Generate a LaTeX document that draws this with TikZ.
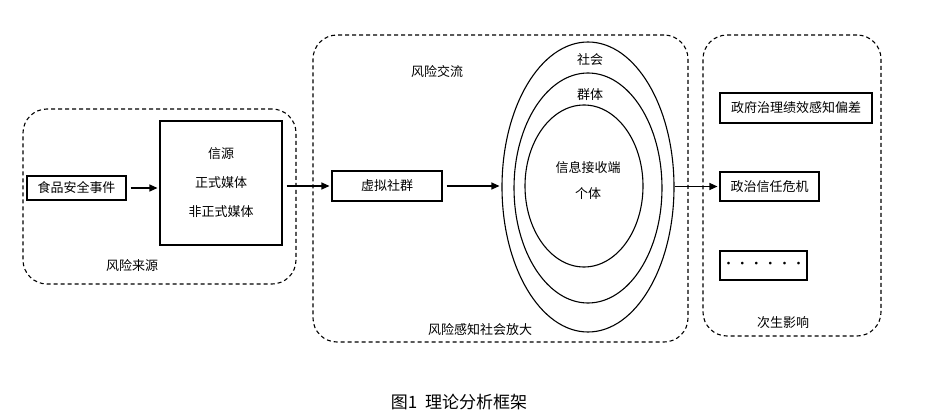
\documentclass[tikz,border=0pt]{standalone}
\usepackage{fontspec}
\setmainfont{Noto Sans CJK SC}
\usetikzlibrary{arrows.meta,positioning,shapes.geometric}

\begin{document}
\begin{tikzpicture}[
  x=1pt,y=-1pt,
  font=\fontsize{13}{16}\selectfont,
  frame/.style={draw,dashed,dash pattern=on 4pt off 3pt,line width=1.1pt,rounded corners=24pt,inner sep=0pt},
  box/.style={draw,line width=1.1pt,inner sep=0pt,align=center},
  ring/.style={draw,ellipse,line width=1.1pt,inner sep=0pt},
  label/.style={inner sep=0pt,align=center},
  arrow/.style={-{Triangle[length=8pt,width=7pt]},line width=1.1pt,shorten <=4pt,shorten >=2pt}
]
\useasboundingbox (0,0) rectangle (926,414);

% frames
\node[frame,minimum width=273,minimum height=175] (srcframe) at (159.5,196.5) {};
\node[frame,minimum width=375,minimum height=307] (commframe) at (500.5,188.5) {};
\node[frame,minimum width=178,minimum height=301] (effframe) at (792,185.5) {};

% risk source
\node[box,minimum width=99,minimum height=24] (event) at (76.5,188) {食品安全事件};
\node[box,minimum width=122,minimum height=124,font=\fontsize{13}{29}\selectfont] (media) at (221,183) {信源\\正式媒体\\非正式媒体};
\node[label] (srclabel) at (132,266) {风险来源};

% risk communication
\node[label] (commlabel) at (437,72) {风险交流};
\node[box,minimum width=110,minimum height=30] (virtual) at (387,186) {虚拟社群};
\node[ring,minimum width=172,minimum height=290] (society) at (588,187) {};
\node[ring,minimum width=148,minimum height=230] (group) at (588,188) {};
\node[ring,minimum width=118,minimum height=162] (person) at (584,186) {};
\node[label] (societylabel) at (590,60) {社会};
\node[label] (grouplabel) at (590,95) {群体};
\node[label,font=\fontsize{13}{26}\selectfont] (personlabel) at (588,180) {信息接收端\\个体};
\node[label] (amplabel) at (480,330) {风险感知社会放大};

% secondary effects
\node[box,minimum width=152,minimum height=30] (gov) at (796,108) {政府治理绩效感知偏差};
\node[box,minimum width=99,minimum height=29] (trust) at (769.5,186.5) {政治信任危机};
\node[box,minimum width=87,minimum height=29] (more) at (763.5,265.5) {\makebox[14pt]{·}\makebox[14pt]{·}\makebox[14pt]{·}\makebox[14pt]{·}\makebox[14pt]{·}\makebox[14pt]{·}};
\node[label] (efflabel) at (783,323) {次生影响};

% caption
\node[label,font=\fontsize{17}{20}\selectfont] (caption) at (459,402) {图1\hspace{8pt}理论分析框架};

\draw[arrow] (event.east) -- (event.east -| media.west);
\draw[arrow] (media.east |- virtual.west) -- (virtual.west);
\draw[arrow] (virtual.east) -- (virtual.east -| society.west);
\draw[arrow,shorten <=0pt] (society.east |- trust.west) -- (trust.west);

\end{tikzpicture}
\end{document}
